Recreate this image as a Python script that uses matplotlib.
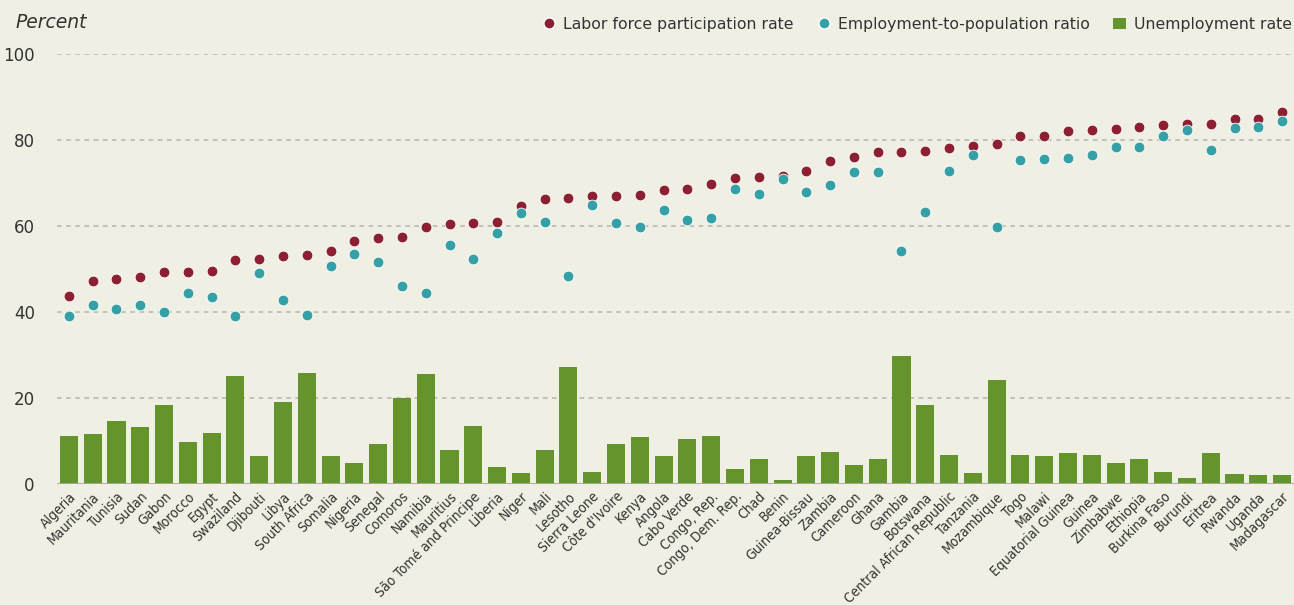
import numpy as np
import matplotlib
matplotlib.use("Agg")
import matplotlib.pyplot as plt
from matplotlib import font_manager
from matplotlib.lines import Line2D
from matplotlib.patches import Patch

countries = [
    "Algeria", "Mauritania", "Tunisia", "Sudan", "Gabon", "Morocco", "Egypt",
    "Swaziland", "Djibouti", "Libya", "South Africa", "Somalia", "Nigeria",
    "Senegal", "Comoros", "Namibia", "Mauritius", "São Tomé and Principe",
    "Liberia", "Niger", "Mali", "Lesotho", "Sierra Leone", "Côte d'Ivoire",
    "Kenya", "Angola", "Cabo Verde", "Congo, Rep.", "Congo, Dem. Rep.", "Chad",
    "Benin", "Guinea-Bissau", "Zambia", "Cameroon", "Ghana", "Gambia",
    "Botswana", "Central African Republic", "Tanzania", "Mozambique", "Togo",
    "Malawi", "Equatorial Guinea", "Guinea", "Zimbabwe", "Ethiopia",
    "Burkina Faso", "Burundi", "Eritrea", "Rwanda", "Uganda", "Madagascar",
]

labor_force = [
    43.8, 47.3, 47.6, 48.1, 49.2, 49.3, 49.5, 52.2, 52.4, 53.1, 53.2, 54.2,
    56.4, 57.2, 57.5, 59.7, 60.4, 60.6, 61.0, 64.7, 66.2, 66.6, 66.9, 66.9,
    67.2, 68.3, 68.5, 69.8, 71.1, 71.5, 71.7, 72.7, 75.2, 76.1, 77.1, 77.3,
    77.5, 78.1, 78.6, 79.0, 80.9, 81.0, 82.0, 82.3, 82.5, 83.0, 83.4, 83.7,
    83.8, 84.9, 85.0, 86.4,
]

employment = [
    39.0, 41.7, 40.6, 41.7, 40.0, 44.4, 43.6, 39.0, 49.0, 42.9, 39.4, 50.7,
    53.5, 51.7, 46.0, 44.5, 55.6, 52.3, 58.4, 63.0, 60.9, 48.4, 64.8, 60.7,
    59.8, 63.8, 61.3, 61.9, 68.5, 67.4, 70.9, 68.0, 69.6, 72.6, 72.6, 54.3,
    63.2, 72.7, 76.4, 59.7, 75.3, 75.5, 75.9, 76.6, 78.3, 78.3, 80.9, 82.3,
    77.7, 82.7, 83.0, 84.5,
]

unemployment = [
    11.2, 11.7, 14.7, 13.3, 18.4, 9.8, 11.9, 25.2, 6.6, 19.1, 25.9, 6.6,
    5.0, 9.4, 20.0, 25.6, 7.8, 13.6, 4.0, 2.6, 8.0, 27.3, 2.9, 9.4,
    11.0, 6.6, 10.5, 11.2, 3.6, 5.7, 1.0, 6.6, 7.5, 4.5, 5.7, 29.7,
    18.4, 6.8, 2.6, 24.3, 6.8, 6.6, 7.3, 6.8, 5.0, 5.7, 2.9, 1.5,
    7.3, 2.4, 2.2, 2.2,
]

yticks = [0, 20, 40, 60, 80, 100]

bg = "#EFF0E3"
red = "#8C1F31"
teal = "#35A0A6"
green = "#66942C"
text_col = "#333333"

# narrow font for the country names, if one is around
installed = {f.name for f in font_manager.fontManager.ttflist}
narrow = next((n for n in ["Liberation Sans Narrow", "Arial Narrow"]
               if n in installed), None)
if narrow:
    label_font = dict(family=narrow, fontsize=10.5)
else:
    label_font = dict(family="DejaVu Sans", fontstretch="condensed",
                      fontsize=10)

fig = plt.figure(figsize=(12.94, 6.05), dpi=100, facecolor=bg)
ax = fig.add_axes([57 / 1294, 121 / 605, 1 - 57 / 1294, 430 / 605])
ax.set_facecolor(bg)

x = np.arange(len(countries))

# dashed grid first, under the marks
for t in yticks[1:]:
    ax.axhline(t, color="#B5B5B0", lw=1.1, ls=(0, (3, 3)), zorder=0)

ax.bar(x, unemployment, width=0.76, color=green, zorder=2)
ax.axhline(0, color="#A8A8A4", lw=2, zorder=3)

ax.scatter(x, labor_force, s=60, color=red, edgecolor="white", linewidth=0.6,
           zorder=4, clip_on=False)
ax.scatter(x, employment, s=60, color=teal, edgecolor="white", linewidth=0.6,
           zorder=5, clip_on=False)

ax.set_xlim(-0.5, len(countries) - 0.5)
ax.set_ylim(0, 100)
ax.set_yticks(yticks)
ax.set_yticklabels([str(t) for t in yticks], fontsize=12, color=text_col)
ax.tick_params(axis="y", length=0, pad=16)
ax.tick_params(axis="x", length=0, pad=4)
ax.set_xticks(x)
ax.set_xticklabels(countries, rotation=45, ha="right", rotation_mode="anchor",
                   color=text_col, **label_font)
for s in ax.spines.values():
    s.set_visible(False)

fig.text(15 / 1294, 1 - 22 / 605, "Percent", fontsize=13.5, style="italic",
         color=text_col, va="center", ha="left")

handles = [
    Line2D([], [], marker="o", ls="", color=red, markeredgecolor="white",
           markersize=8),
    Line2D([], [], marker="o", ls="", color=teal, markeredgecolor="white",
           markersize=8),
    Patch(facecolor=green),
]
labels = ["Labor force participation rate", "Employment-to-population ratio",
          "Unemployment rate"]
leg = fig.legend(handles, labels, loc="center right",
                 bbox_to_anchor=(1.003, 1 - 24 / 605), ncol=3, frameon=False,
                 fontsize=11.3, handlelength=0.8, handletextpad=0.5,
                 columnspacing=1.5, borderaxespad=0)
for t in leg.get_texts():
    t.set_color(text_col)

fig.savefig("out.png", dpi=100, facecolor=bg)
